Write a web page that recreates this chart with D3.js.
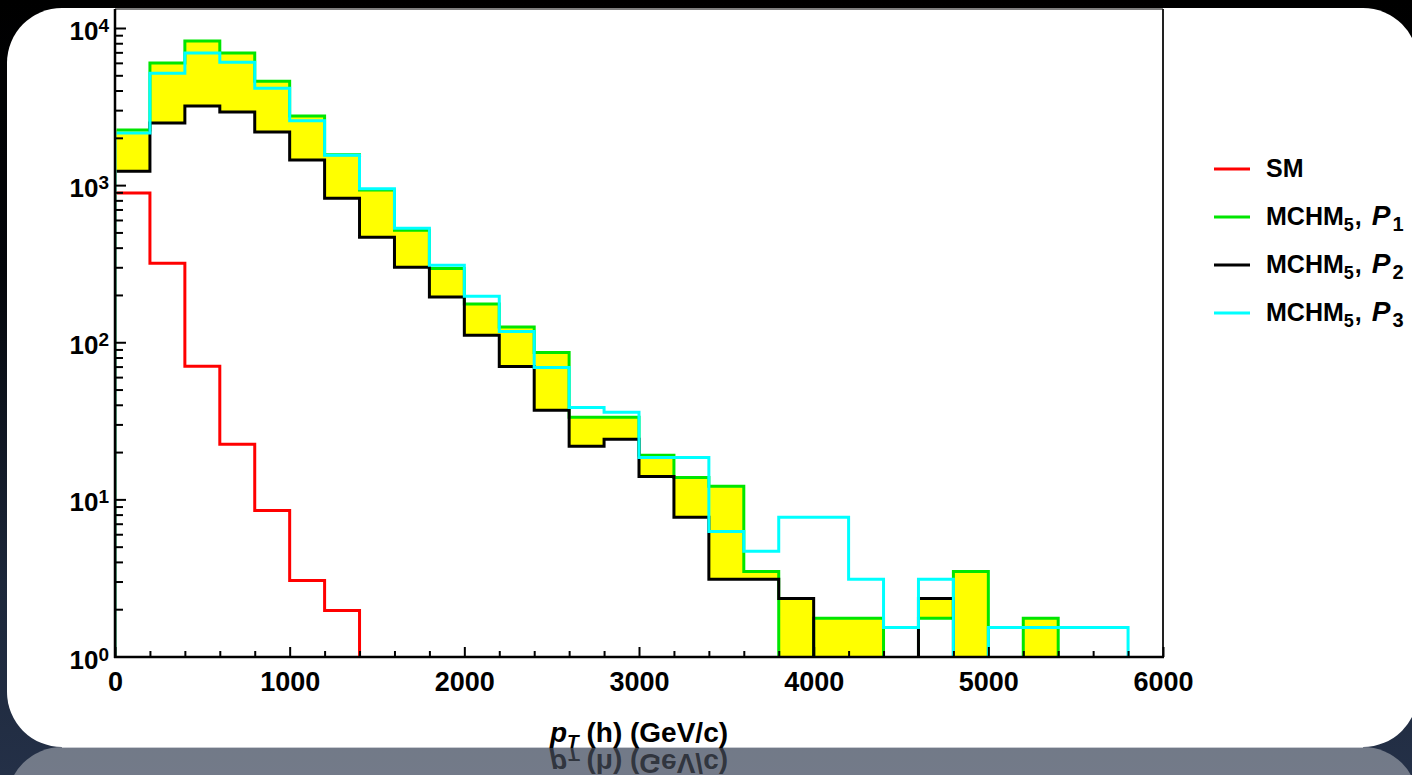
<!DOCTYPE html>
<html>
<head>
<meta charset="utf-8">
<script src="https://cdn.jsdelivr.net/npm/d3@7"></script>
<style>
  html, body { margin: 0; padding: 0; background: #000; overflow: hidden; }
  svg { display: block; }
  text { font-family: "Liberation Sans", Arial, Helvetica, sans-serif; font-weight: bold; }
</style>
</head>
<body>
<svg id="chart" width="1412" height="775"></svg>
<script>
// Histogram bins of the Higgs transverse momentum (GeV/c), 200 GeV wide
const binStarts = [0, 200, 400, 600, 800, 1000, 1200, 1400, 1600, 1800,
                   2000, 2200, 2400, 2600, 2800, 3000, 3200, 3400, 3600, 3800,
                   4000, 4200, 4400, 4600, 4800, 5000, 5200, 5400, 5600, 5800];
const binWidth = 200;

// Event counts per bin (0 = empty bin)
const smCounts = [890, 318, 70.3, 22.4, 8.5, 3.05, 1.96, 0, 0, 0,
                  0, 0, 0, 0, 0, 0, 0, 0, 0, 0,
                  0, 0, 0, 0, 0, 0, 0, 0, 0, 0];
const p1Counts = [2240, 5980, 8260, 6930, 4590, 2750, 1560, 930, 517, 295,
                  175, 125, 86, 33.3, 33.3, 19.1, 13.8, 12.1, 3.47, 0,
                  1.75, 1.75, 0, 1.75, 3.47, 0, 1.75, 0, 0, 0];
const p2Counts = [1227, 2483, 3186, 2917, 2177, 1443, 826, 466, 300, 194,
                  111, 70, 36.9, 21.8, 24.1, 14, 7.7, 3.1, 3.1, 2.34,
                  0, 0, 0, 2.34, 0, 0, 0, 0, 0, 0];
const p3Counts = [2145, 5160, 6930, 6050, 4130, 2570, 1550, 950, 532, 309,
                  196, 117, 69, 38.5, 35.8, 18.5, 18.5, 6.25, 4.67, 7.7,
                  7.7, 3.1, 1.53, 3.1, 0, 1.53, 1.53, 1.53, 1.53, 0];

const xMajorTicks = [0, 1000, 2000, 3000, 4000, 5000, 6000];
const yDecadeExponents = ["0", "1", "2", "3", "4"];
const xTitle = { main: "p", sub: "T", rest: " (h) (GeV/c)" };
const legendEntries = [
  { name: "SM", sub: null, param: null, pSub: null, color: "#ff0000" },
  { name: "MCHM", sub: "5", param: "P", pSub: "1", color: "#00e600" },
  { name: "MCHM", sub: "5", param: "P", pSub: "2", color: "#000000" },
  { name: "MCHM", sub: "5", param: "P", pSub: "3", color: "#00ffff" }
];

const W = 1412, H = 775;
const plot = { left: 115, right: 1163, top: 9, bottom: 657 };
const svg = d3.select("#chart");
const defs = svg.append("defs");

// ---------- backdrop ----------
const bg = defs.append("linearGradient").attr("id", "bgGrad")
  .attr("x1", 0).attr("y1", 0).attr("x2", 0).attr("y2", 1);
bg.append("stop").attr("offset", "0").attr("stop-color", "#000000");
bg.append("stop").attr("offset", "0.35").attr("stop-color", "#03050a");
bg.append("stop").attr("offset", "0.75").attr("stop-color", "#1c273a");
bg.append("stop").attr("offset", "1").attr("stop-color", "#243047");
svg.append("rect").attr("width", W).attr("height", H).attr("fill", "url(#bgGrad)");

const panel = { x: 7, y: 8, w: 1411, h: 739, r: 55 };

// mirrored panel below the card
svg.append("rect")
  .attr("x", panel.x).attr("y", panel.y + panel.h)
  .attr("width", panel.w).attr("height", 200)
  .attr("rx", panel.r).attr("ry", panel.r)
  .attr("fill", "#ffffff").attr("fill-opacity", 0.36);

// white card
svg.append("rect")
  .attr("x", panel.x).attr("y", panel.y)
  .attr("width", panel.w).attr("height", panel.h)
  .attr("rx", panel.r).attr("ry", panel.r)
  .attr("fill", "#ffffff");
svg.append("line")
  .attr("x1", panel.x + panel.r).attr("x2", panel.x + panel.w - panel.r)
  .attr("y1", panel.y + panel.h + 0.5).attr("y2", panel.y + panel.h + 0.5)
  .attr("stroke", "#c9ccd2").attr("stroke-width", 1.2);

// ---------- scales ----------
const x = d3.scaleLinear().domain([0, 6000]).range([plot.left, plot.right]);
const y = d3.scaleLog().domain([1, 1e4]).range([656.5, 28]);
const below = plot.bottom + 20;
const yv = v => (v > 0 ? y(v) : below);

// clip keeps the steps inside the frame (left edge hidden behind the axis)
defs.append("clipPath").attr("id", "plotClip")
  .append("rect")
  .attr("x", plot.left + 1.5).attr("y", plot.top)
  .attr("width", plot.right - plot.left - 1.5).attr("height", plot.bottom - plot.top);

function stepPoints(counts) {
  const pts = [{ x: binStarts[0], v: 0 }];
  counts.forEach((c, i) => pts.push({ x: binStarts[i], v: c }));
  pts.push({ x: binStarts[binStarts.length - 1] + binWidth, v: 0 });
  return pts;
}

const g = svg.append("g").attr("clip-path", "url(#plotClip)");

// yellow band between P1 and P2
const bandData = binStarts.map((s, i) => ({ x: s, a: p1Counts[i], b: p2Counts[i] }));
bandData.push({ x: 6000, a: p1Counts[p1Counts.length - 1], b: p2Counts[p2Counts.length - 1] });
const band = d3.area().curve(d3.curveStepAfter)
  .x(d => x(d.x)).y0(d => yv(d.b)).y1(d => yv(d.a));
g.append("path").attr("d", band(bandData)).attr("fill", "#ffff00");

const step = d3.line().curve(d3.curveStepAfter).x(d => x(d.x)).y(d => yv(d.v));
[[smCounts, "#ff0000"], [p1Counts, "#00e600"], [p2Counts, "#000000"], [p3Counts, "#00ffff"]]
  .forEach(([counts, color]) => {
    g.append("path").attr("d", step(stepPoints(counts)))
      .attr("fill", "none").attr("stroke", color)
      .attr("stroke-width", 3).attr("stroke-linejoin", "miter");
  });

// ---------- frame & axes ----------
svg.append("line").attr("x1", plot.left).attr("x2", plot.right)
  .attr("y1", plot.top).attr("y2", plot.top).attr("stroke", "#555").attr("stroke-width", 1.5);
svg.append("line").attr("x1", plot.right).attr("x2", plot.right)
  .attr("y1", plot.top).attr("y2", plot.bottom).attr("stroke", "#222").attr("stroke-width", 2);

const xMinor = binStarts.filter(v => v % 1000 !== 0);
const xMinorAxis = svg.append("g").attr("transform", `translate(0,${plot.bottom})`)
  .call(d3.axisBottom(x).tickValues(xMinor).tickSize(-6).tickSizeOuter(0).tickFormat(""));
const xMajorAxis = svg.append("g").attr("transform", `translate(0,${plot.bottom})`)
  .call(d3.axisBottom(x).tickValues(xMajorTicks).tickSize(-10).tickSizeOuter(0)
    .tickPadding(15).tickFormat(d3.format("d")));
[xMinorAxis, xMajorAxis].forEach(a => {
  a.select(".domain").remove();
  a.selectAll("line").attr("stroke", "#000").attr("stroke-width", 2);
});
xMajorAxis.selectAll("text")
  .attr("font-size", 27).attr("font-weight", "bold").attr("fill", "#000")
  .attr("font-family", "'Liberation Sans', Arial, sans-serif");

const yAll = y.ticks();
const isDecade = v => Math.abs(Math.log10(v) - Math.round(Math.log10(v))) < 1e-9;
const yMinorAxis = svg.append("g").attr("transform", `translate(${plot.left},0)`)
  .call(d3.axisLeft(y).tickValues(yAll.filter(v => !isDecade(v))).tickSize(-8).tickSizeOuter(0).tickFormat(""));
const yMajorAxis = svg.append("g").attr("transform", `translate(${plot.left},0)`)
  .call(d3.axisLeft(y).tickValues(yAll.filter(isDecade)).tickSize(-11).tickSizeOuter(0).tickFormat(""));
[yMinorAxis, yMajorAxis].forEach(a => {
  a.select(".domain").remove();
  a.selectAll("line").attr("stroke", "#000").attr("stroke-width", 2);
});

// y decade labels 10^n
const yLab = svg.append("g");
yDecadeExponents.forEach(e => {
  const ty = y(Math.pow(10, +e));
  const t = yLab.append("text").attr("x", 109).attr("y", ty + 12)
    .attr("text-anchor", "end").attr("fill", "#000");
  t.append("tspan").attr("font-size", 26).text("10");
  t.append("tspan").attr("font-size", 19).attr("dy", -8).text(e);
});

// axis lines on top
svg.append("line").attr("x1", plot.left).attr("x2", plot.left)
  .attr("y1", plot.top).attr("y2", plot.bottom + 1).attr("stroke", "#000").attr("stroke-width", 2.5);
svg.append("line").attr("x1", plot.left - 1).attr("x2", plot.right + 1)
  .attr("y1", plot.bottom).attr("y2", plot.bottom).attr("stroke", "#000").attr("stroke-width", 2.5);

// ---------- x title and its reflection ----------
function drawTitle(sel) {
  const t = sel.append("text").attr("x", (plot.left + plot.right) / 2).attr("y", 742)
    .attr("text-anchor", "middle").attr("font-size", 28);
  t.append("tspan").attr("font-style", "italic").text(xTitle.main);
  t.append("tspan").attr("font-style", "italic").attr("font-size", 19).attr("dy", 6).text(xTitle.sub);
  t.append("tspan").attr("dy", -6).text(xTitle.rest);
  return t;
}
drawTitle(svg).attr("fill", "#000");

const mirrorY = panel.y + panel.h + 1;
defs.append("clipPath").attr("id", "reflClip")
  .append("rect").attr("x", 0).attr("y", mirrorY).attr("width", W).attr("height", 60);
const refl = svg.append("g").attr("clip-path", "url(#reflClip)")
  .append("g").attr("transform", `translate(0,${2 * mirrorY}) scale(1,-1)`);
drawTitle(refl).attr("fill", "#1f232b").attr("fill-opacity", 0.8);

// ---------- legend ----------
const leg = svg.append("g");
legendEntries.forEach((d, i) => {
  const ly = 169 + i * 48;
  leg.append("line").attr("x1", 1214).attr("x2", 1250).attr("y1", ly).attr("y2", ly)
    .attr("stroke", d.color).attr("stroke-width", 3);
  const t = leg.append("text").attr("x", 1266).attr("y", ly + 8).attr("font-size", 25).attr("fill", "#000");
  t.append("tspan").text(d.name);
  if (d.sub) {
    t.append("tspan").attr("font-size", 18).attr("dy", 6).text(d.sub);
    t.append("tspan").attr("dy", -6).attr("dx", 1).text(", ");
    t.append("tspan").attr("font-style", "italic").attr("font-size", 28).attr("dx", 3).text(d.param);
    t.append("tspan").attr("font-size", 20).attr("dy", 6).attr("dx", 2).text(d.pSub);
  }
});
</script>
</body>
</html>
